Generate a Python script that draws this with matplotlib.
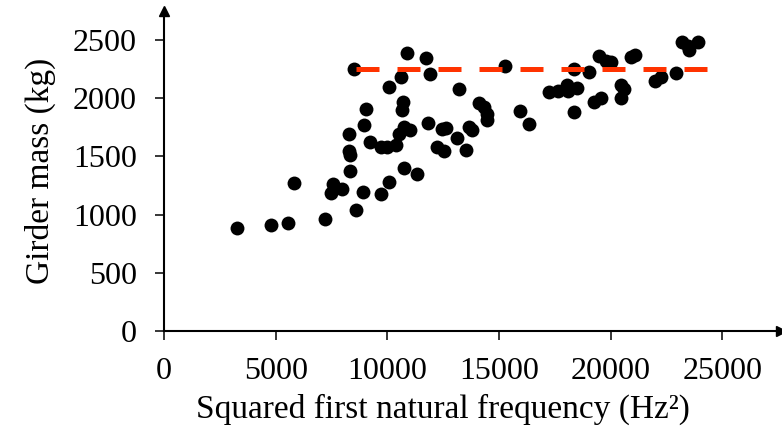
import numpy as np
import matplotlib
matplotlib.use("Agg")
import matplotlib.pyplot as plt

plt.rcParams['font.family'] = ['Liberation Serif', 'DejaVu Serif']

# squared first natural frequency (Hz^2) and girder mass (kg)
freq2 = [3265, 4776, 5563, 5820, 7211, 7483, 7574, 7982, 8587, 8905,
         8314, 8284, 8330, 8284, 8512, 8966, 9039, 9237, 9719, 9977,
         9719, 10098, 10068, 10370, 10521, 10598, 10703, 10671, 10735, 11007,
         10748, 10884, 11352, 11715, 11837, 11912, 12214, 12562, 12440, 12639,
         13120, 13227, 13528, 13651, 13800, 14104, 14331, 14452, 14481, 15283,
         15950, 16327, 17234, 17656, 18035, 18107, 18488, 18381, 19048, 18381,
         19243, 19578, 19470, 19805, 20000, 20454, 20605, 20454, 20907, 21088,
         22010, 22268, 22948, 23206, 23478, 23522, 23900]
mass = [882, 911, 925, 1271, 963, 1188, 1266, 1217, 1043, 1197,
        1377, 1545, 1515, 1690, 2248, 1770, 1905, 1627, 1584, 1584,
        1177, 1283, 2099, 1598, 1690, 2185, 1970, 1899, 1750, 1727,
        1397, 2386, 1349, 2349, 1790, 2208, 1578, 1549, 1733, 1747,
        1661, 2082, 1555, 1750, 1727, 1962, 1928, 1865, 1813, 2279,
        1890, 1781, 2056, 2062, 2113, 2062, 2085, 2248, 2228, 1884,
        1970, 2004, 2363, 2322, 2308, 2113, 2076, 2004, 2357, 2371,
        2150, 2185, 2219, 2485, 2448, 2414, 2485]

# horizontal limit line
limit_x = [8585, 24700]
limit_y = 2248

fig = plt.figure(figsize=(7.82, 4.30), dpi=100)
ax = fig.add_axes([0.2097, 0.2302, 0.7895, 0.7442])

ax.scatter(freq2, mass, s=100, color='black', zorder=3, linewidths=0)
ax.plot(limit_x, [limit_y, limit_y], color='#FF3300', linewidth=3.6,
        linestyle=(0, (4.6, 3.6)), zorder=4)

ax.set_xlim(0, 27650)
ax.set_ylim(0, 2750)
ax.set_xticks(np.arange(0, 25001, 5000))
ax.set_yticks(np.arange(0, 2501, 500))

for side in ['top', 'right']:
    ax.spines[side].set_visible(False)
for side in ['left', 'bottom']:
    ax.spines[side].set_linewidth(1.5)

ax.tick_params(axis='both', direction='out', length=6.5, width=1.1, labelsize=23)
ax.tick_params(axis='x', pad=12)
ax.tick_params(axis='y', pad=13)

# arrow heads at the ends of the axes
ax.plot(1, 0, '>', color='black', markersize=7.5, transform=ax.transAxes, clip_on=False)
ax.plot(0, 1, '^', color='black', markersize=7.5, transform=ax.transAxes, clip_on=False)

ax.set_xlabel('Squared first natural frequency (Hz\u00b2)', fontsize=24, labelpad=6)
ax.xaxis.label.set_x(0.452)
ax.set_ylabel('Girder mass (kg)', fontsize=24, labelpad=12)

fig.savefig('out.png', dpi=100)
